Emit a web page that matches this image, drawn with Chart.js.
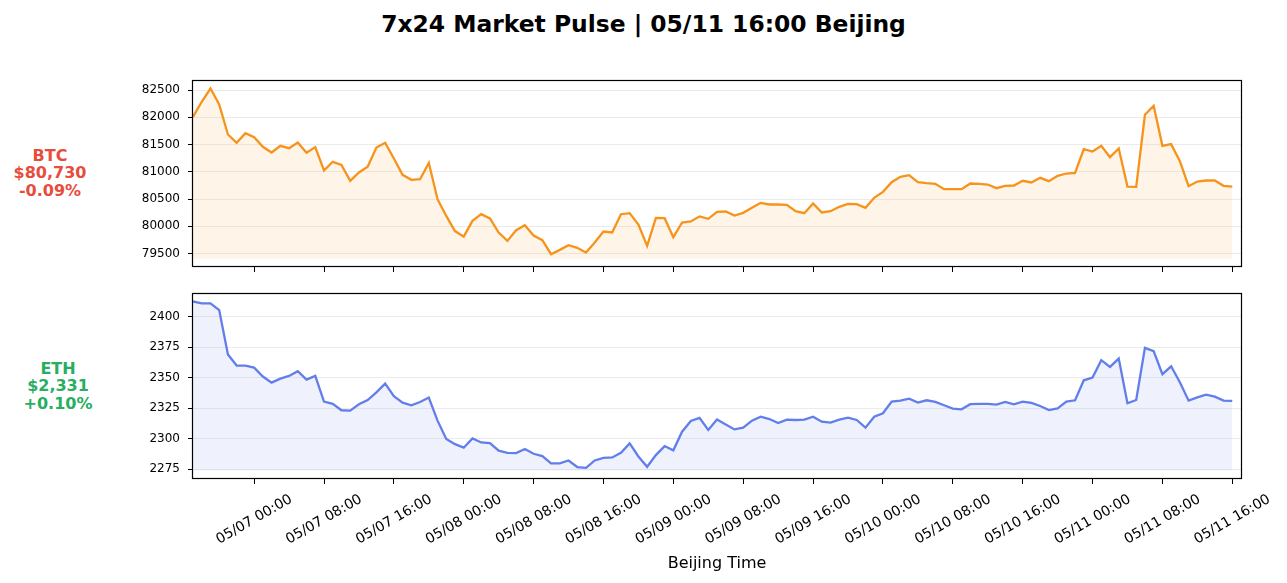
<!DOCTYPE html>
<html>
<head>
<meta charset="utf-8">
<script src="https://cdn.jsdelivr.net/npm/chart.js@4.4.1/dist/chart.umd.min.js"></script>
<style>
  html, body { margin: 0; padding: 0; background: #ffffff; }
  body { width: 1287px; height: 583px; position: relative; overflow: hidden; font-family: "DejaVu Sans", sans-serif; }
  #title { position: absolute; left: 0; width: 1287px; top: 10px; text-align: center; font-weight: bold; font-size: 23.4px; line-height: 28px; color: #000; }
  .side { position: absolute; width: 120px; text-align: center; font-weight: bold; font-size: 16px; line-height: 17.3px; }
  canvas { position: absolute; left: 0; }
</style>
</head>
<body>
<div id="title">7x24 Market Pulse | 05/11 16:00 Beijing</div>
<div class="side" id="btcLabel" style="left:-10px; top:147px; color:#e74c3c;"></div>
<div class="side" id="ethLabel" style="left:-2px; top:360px; color:#27ae60;"></div>
<canvas id="btcChart" width="1287" height="210" style="top:70px;"></canvas>
<canvas id="ethChart" width="1287" height="300" style="top:283px;"></canvas>
<script>
// ---------- data ----------
const btcPrices = [
  82010, 82286, 82530, 82237, 81686, 81533, 81710, 81637, 81459, 81355,
  81477, 81435, 81539, 81349, 81453, 81024, 81184, 81128, 80835, 80988,
  81092, 81447, 81533, 81245, 80945, 80853, 80865, 81165, 80498, 80190,
  79912, 79810, 80100, 80222, 80143, 79886, 79732, 79928, 80020, 79830,
  79745, 79488, 79567, 79653, 79604, 79518, 79702, 79904, 79886, 80222,
  80241, 80033, 79641, 80155, 80149, 79800, 80069, 80088, 80182, 80137,
  80265, 80271, 80198, 80247, 80339, 80430, 80400, 80400, 80394, 80277,
  80241, 80418, 80253, 80277, 80357, 80412, 80406, 80339, 80522, 80632,
  80810, 80908, 80939, 80810, 80792, 80779, 80681, 80681, 80682, 80786,
  80779, 80767, 80700, 80743, 80749, 80835, 80804, 80890, 80828, 80926,
  80969, 80982, 81416, 81373, 81477, 81269, 81428, 80730, 80724, 82047,
  82212, 81477, 81508, 81196, 80737, 80822, 80841, 80841, 80743, 80730
];
const ethPrices = [
  2412.6, 2411.0, 2411.0, 2405.5, 2369.0, 2360.0, 2360.0, 2358.3, 2351.0, 2346.0,
  2349.3, 2351.5, 2355.3, 2348.5, 2351.5, 2330.4, 2328.5, 2323.3, 2323.0, 2328.2,
  2331.7, 2338.0, 2345.2, 2334.8, 2329.6, 2327.4, 2330.1, 2333.7, 2314.8, 2299.7,
  2295.5, 2292.6, 2300.2, 2296.9, 2296.4, 2290.1, 2288.4, 2288.2, 2291.5, 2287.6,
  2285.7, 2279.7, 2279.7, 2282.1, 2276.7, 2276.1, 2282.1, 2284.3, 2284.6, 2288.4,
  2296.1, 2285.4, 2276.9, 2286.5, 2293.9, 2290.4, 2305.7, 2314.5, 2317.0, 2307.1,
  2315.7, 2311.7, 2307.6, 2309.0, 2314.8, 2318.0, 2316.1, 2312.8, 2315.6, 2315.3,
  2315.6, 2318.0, 2313.9, 2313.1, 2315.6, 2317.2, 2315.3, 2309.0, 2318.0, 2320.8,
  2330.4, 2331.2, 2332.8, 2329.6, 2331.5, 2330.1, 2327.4, 2324.6, 2324.1, 2328.3,
  2328.5, 2328.5, 2327.9, 2330.1, 2328.2, 2330.4, 2329.3, 2326.8, 2323.5, 2324.9,
  2330.4, 2331.5, 2347.9, 2350.1, 2364.4, 2358.9, 2365.7, 2329.0, 2331.7, 2374.5,
  2371.8, 2352.9, 2359.4, 2346.3, 2331.2, 2333.9, 2336.1, 2334.5, 2331.2, 2331.0
];
// hours since 05/06 17:00 Beijing (one point per hour)
const hourIndex = btcPrices.map((_, i) => i);
const xTickHours = [7, 15, 23, 31, 39, 47, 55, 63, 71, 79, 87, 95, 103, 111, 119];
const xTickLabels = [
  "05/07 00:00", "05/07 08:00", "05/07 16:00", "05/08 00:00", "05/08 08:00",
  "05/08 16:00", "05/09 00:00", "05/09 08:00", "05/09 16:00", "05/10 00:00",
  "05/10 08:00", "05/10 16:00", "05/11 00:00", "05/11 08:00", "05/11 16:00"
];
const btcTicks = [79500, 80000, 80500, 81000, 81500, 82000, 82500];
const ethTicks = [2275, 2300, 2325, 2350, 2375, 2400];
const btcInfo = ["BTC", "$80,730", "-0.09%"];
const ethInfo = ["ETH", "$2,331", "+0.10%"];
const xAxisTitle = "Beijing Time";

// ---------- side labels ----------
document.getElementById('btcLabel').innerHTML = btcInfo.join('<br>');
document.getElementById('ethLabel').innerHTML = ethInfo.join('<br>');

// ---------- chart helpers ----------
Chart.defaults.font.family = "'DejaVu Sans', sans-serif";
Chart.defaults.color = '#000';

const framePlugin = {
  id: 'frame',
  afterDraw(chart) {
    const a = chart.chartArea, ctx = chart.ctx;
    ctx.save();
    ctx.strokeStyle = '#000';
    ctx.lineWidth = 1.2;
    ctx.strokeRect(Math.round(a.left) - 0.5, Math.round(a.top) + 0.5,
                   Math.round(a.right - a.left) + 1, Math.round(a.bottom - a.top) - 1);
    ctx.restore();
  }
};

function makeChart(canvasId, values, color, fillColor, yTicks, xHeight, showXLabels) {
  const lo = Math.min(...values) * 0.999;
  const hi = Math.max(...values);
  const pad = (hi - lo) * 0.05;
  const points = hourIndex.map((h, i) => ({ x: h, y: values[i] }));
  return new Chart(document.getElementById(canvasId), {
    type: 'line',
    data: {
      datasets: [{
        data: points,
        borderColor: color,
        backgroundColor: fillColor,
        borderWidth: 2.3,
        pointRadius: 0,
        tension: 0,
        fill: { value: lo }
      }]
    },
    options: {
      responsive: false,
      animation: false,
      devicePixelRatio: 1,
      layout: { padding: { top: 10, right: 46, left: 0, bottom: 0 } },
      plugins: { legend: { display: false }, tooltip: { enabled: false } },
      scales: {
        x: {
          type: 'linear',
          min: 0,
          max: 120,
          afterBuildTicks(scale) { scale.ticks = xTickHours.map(v => ({ value: v })); },
          afterFit(scale) { scale.height = xHeight; scale.paddingLeft = 0; scale.paddingRight = 0; },
          grid: { drawOnChartArea: false, drawTicks: true, tickLength: 5, tickColor: '#000' },
          border: { display: false },
          ticks: {
            display: showXLabels,
            autoSkip: false,
            minRotation: 30,
            maxRotation: 30,
            labelOffset: 37,
            padding: 7,
            font: { size: 14 },
            color: '#000',
            callback: (v) => xTickLabels[xTickHours.indexOf(v)]
          },
          title: {
            display: showXLabels,
            text: xAxisTitle,
            font: { size: 16 },
            color: '#000',
            padding: { top: 0, bottom: 10 }
          }
        },
        y: {
          min: lo - pad,
          max: hi + pad,
          afterBuildTicks(scale) { scale.ticks = yTicks.map(v => ({ value: v })); },
          afterFit(scale) { scale.width = 193; scale.paddingTop = 0; scale.paddingBottom = 0; },
          grid: { color: 'rgba(0,0,0,0.08)', lineWidth: 1, drawTicks: true, tickLength: 5, tickColor: '#000' },
          border: { display: false },
          ticks: { font: { size: 12 }, color: '#000', padding: 8, callback: (v) => String(v) }
        }
      }
    },
    plugins: [framePlugin]
  });
}

makeChart('btcChart', btcPrices, '#f7931a', 'rgba(247,147,26,0.1)', btcTicks, 13, false);
makeChart('ethChart', ethPrices, '#627eea', 'rgba(98,126,234,0.1)', ethTicks, 104, true);
</script>
</body>
</html>
